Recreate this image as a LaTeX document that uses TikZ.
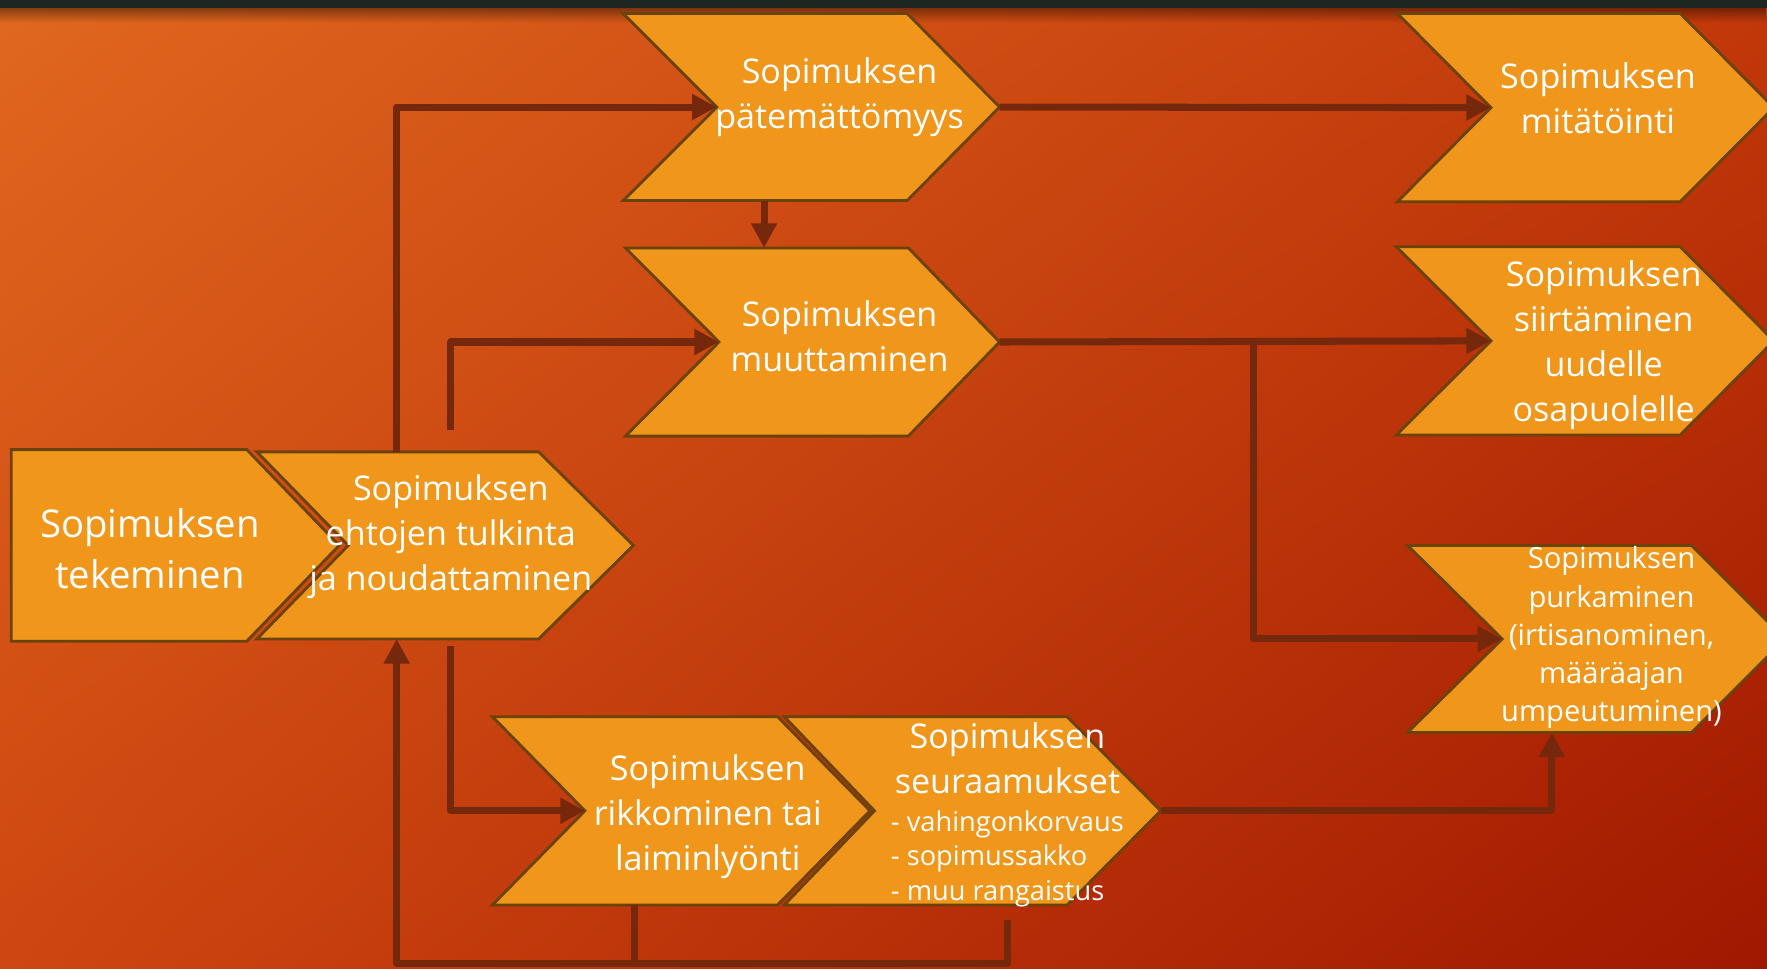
\documentclass[tikz,border=0pt]{standalone}
\usepackage{fontspec}
\setmainfont{Open Sans}
\usepackage{tikz}
\usetikzlibrary{arrows.meta}
\usetikzlibrary{fadings}
\usetikzlibrary{shadings}
\definecolor{bgTL}{HTML}{E0681F}
\definecolor{bgTR}{HTML}{C2380A}
\definecolor{bgBL}{HTML}{CE4610}
\definecolor{bgBR}{HTML}{A01800}
\definecolor{topbar}{HTML}{1E2622}
\definecolor{boxfill}{HTML}{F0961A}
\definecolor{boxline}{HTML}{6B4309}
\definecolor{linkcol}{HTML}{76280C}
\tikzset{
	chev box/.style={fill=boxfill,draw=boxline,line width=0.8pt},
	main text/.style={text=white,align=center,font=\fontsize{9.7}{12.8}\selectfont},
	big text/.style={main text,font=\fontsize{10.9}{14.4}\selectfont},
	small text/.style={main text,font=\fontsize{8.3}{10.9}\selectfont},
	list text/.style={text=white,align=left,anchor=west,inner sep=0pt,font=\fontsize{7.75}{9.9}\selectfont},
	link/.style={draw=linkcol,line width=2pt,line join=round},
	flow/.style={link,->}
}
\newcommand{\chevbox}[7]{%
	\draw[chev box] (#2,#4) -- (#3,#4) -- ({#3+#7},{(#4+#5)/2}) -- (#3,#5) -- (#2,#5) -- ({#2+#6},{(#4+#5)/2}) -- cycle;
	\coordinate (#1-in) at ({#2+#6},{(#4+#5)/2});
	\coordinate (#1-out) at ({#3+#7},{(#4+#5)/2});
}

\begin{document}
\begin{tikzpicture}[x=0.01127cm,y=-0.01127cm,>={Triangle[length=7pt,width=7pt]}]
	\useasboundingbox (0,0) rectangle (1568,859);
	\shade[upper left=bgTL,upper right=bgTR,lower left=bgBL,lower right=bgBR] (0,0) rectangle (1568,859);
	\fill[topbar] (0,0) rectangle (1568,7);
	\fill[black,opacity=0.4,path fading=south] (0,7) rectangle (1568,20);

	\chevbox{tek}{10}{219}{399}{569}{0}{82}
	\chevbox{tul}{228}{478}{401}{567}{81}{84}
	\chevbox{pat}{553}{805}{12}{178}{83}{82}
	\chevbox{muu}{555}{806}{220}{387}{83}{81}
	\chevbox{mit}{1240}{1491}{12}{179}{83}{83}
	\chevbox{sii}{1239}{1491}{219}{386}{84}{83}
	\chevbox{pur}{1249}{1501}{484}{650}{84}{83}
	\chevbox{rik}{437}{690}{636}{803}{82}{82}
	\chevbox{seu}{696}{947}{636}{803}{80}{83}

	\coordinate (tul-n1) at (352,401);
	\coordinate (tul-n2) at (400,382);
	\coordinate (tul-s1) at (352,567);
	\coordinate (tul-s2) at (400,573);
	\coordinate (pat-s) at (678,178);
	\coordinate (muu-n) at (678,220);
	\coordinate (muu-jako) at (1112,303.5);
	\coordinate (rik-s) at (563,803);
	\coordinate (seu-s) at (894,816);
	\coordinate (pur-s) at (1377,650);
	\coordinate (pohja) at (352,855);

	\draw[flow] (tul-n1) |- (pat-in);
	\draw[flow] (tul-n2) |- (muu-in);
	\draw[flow] (tul-s2) |- (rik-in);
	\draw[flow] (pat-s) -- (muu-n);
	\draw[flow] (pat-out) -- (mit-in);
	\draw[flow] (muu-out) -- (sii-in);
	\draw[flow] (muu-jako) |- (pur-in);
	\draw[flow] (seu-out) -| (pur-s);
	\draw[flow] (seu-s) |- (pohja) -- (tul-s1);
	\draw[link] (rik-s) -- (rik-s |- pohja);

	\node[big text] (tekeminen) at (133,487) {Sopimuksen\\tekeminen};
	\node[main text] (tulkinta) at (400,476) {Sopimuksen\\ehtojen tulkinta\\ja noudattaminen};
	\node[main text] (patemattomyys) at (745,86) {Sopimuksen\\pätemättömyys};
	\node[main text] (muuttaminen) at (745,298) {Sopimuksen\\muuttaminen};
	\node[main text] (mitatointi) at (1418,87) {Sopimuksen\\mitätöinti};
	\node[main text] (siirtaminen) at (1423,306) {Sopimuksen\\siirtäminen\\uudelle\\osapuolelle};
	\node[small text] (purkaminen) at (1430,566) {Sopimuksen\\purkaminen\\(irtisanominen,\\määräajan\\umpeutuminen)};
	\node[main text] (rikkominen) at (628,725) {Sopimuksen\\rikkominen tai\\laiminlyönti};
	\node[main text] (seuraamukset) at (894,673) {Sopimuksen\\seuraamukset};
	\node[list text] (seurlista) at (790,762) {- vahingonkorvaus\\- sopimussakko\\- muu rangaistus};
\end{tikzpicture}
\end{document}
